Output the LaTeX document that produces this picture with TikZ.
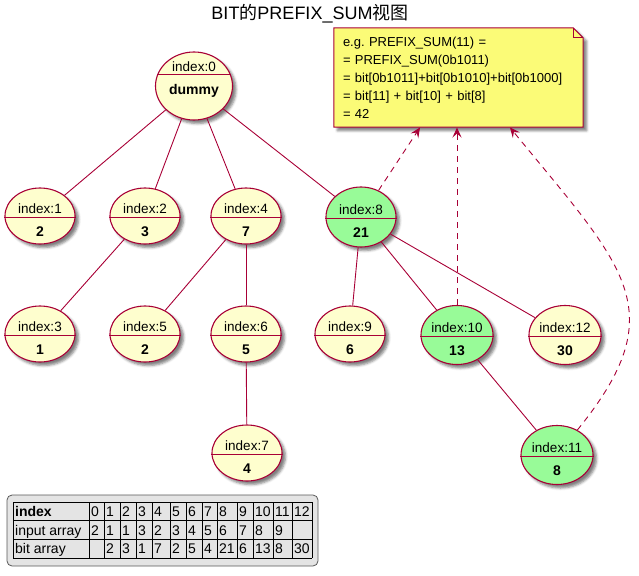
\documentclass[tikz,border=0pt]{standalone}
\usepackage{fontspec}
\setmainfont{Liberation Sans}
\newfontfamily\cjkfont{Noto Sans CJK SC}
\usetikzlibrary{shapes.geometric,arrows.meta,shadows.blur,backgrounds}
\definecolor{uborder}{HTML}{A80036}
\definecolor{ufill}{HTML}{FEFECE}
\definecolor{ugreen}{HTML}{98FB98}
\definecolor{nfill}{HTML}{FBFB77}
\definecolor{lfill}{HTML}{E4E4E4}
\frenchspacing
\begin{document}
\begin{tikzpicture}[x=1pt,y=-1pt,
  shad/.style={blur shadow={shadow xshift=3.5pt,shadow yshift=-3.5pt,shadow blur radius=2.5pt,shadow opacity=50}},
  ucy/.style={ellipse, draw=uborder, line width=1.1pt, fill=ufill, inner sep=0pt,
    minimum width=70pt, minimum height=56pt, shad},
  ucyb/.style={ucy, minimum width=72pt, minimum height=59pt},
  ucgm/.style={ucy, fill=ugreen, minimum height=60pt},
  ucgb/.style={ucyb, fill=ugreen},
  idx/.style={font=\fontsize{13.5}{16}\selectfont, inner sep=0pt},
  val/.style={font=\fontsize{14}{16}\selectfont\bfseries, inner sep=0pt},
  div/.style={draw=uborder, line width=1pt},
  edge/.style={draw=uborder, line width=0.9pt},
  ref/.style={draw=uborder, line width=0.9pt, dash pattern=on 6pt off 5pt,
    -{Stealth[length=10pt,width=9pt,inset=4pt]}},
  ttl/.style={font=\fontsize{18}{20}\selectfont, inner sep=0pt},
  notetext/.style={minimum width=249pt, minimum height=99pt, text width=231pt,
    align=left, inner sep=0pt, font=\fontsize{13}{18}\selectfont},
  notebg/.style={draw=uborder, line width=1pt, fill=nfill, shad},
  legbox/.style={draw=black!65, line width=0.8pt, fill=lfill, rounded corners=5pt,
    minimum width=311pt, minimum height=71pt, inner sep=0pt},
  gridln/.style={draw=black, line width=0.7pt},
  cell/.style={anchor=base west, inner sep=0pt, font=\fontsize{14}{16}\selectfont}
]
\useasboundingbox (0,0) rectangle (639,575);

% title
\node[ttl] (title) at (310,14) {BIT{\cjkfont 的}PREFIX\_SUM{\cjkfont 视图}};

% root node
\node[ucy, minimum width=77pt, minimum height=68pt] (n0) at (194,86) {};
\draw[div] (n0.163) -- (n0.17);
\node[idx] (t0) at (194,67) {index:0};
\node[val] (v0) at (194,91) {dummy};

% other nodes
\foreach \n/\x/\y/\v/\s in {1/40/216/2/ucy, 2/145/216/3/ucy, 4/246/216/7/ucy,
  8/361/217/21/ucgm, 3/40/334/1/ucy, 5/145/334/2/ucy, 6/246/334/5/ucy,
  7/247/453/4/ucy, 9/350/334/6/ucy, 10/457/335/13/ucgb, 11/557/455/8/ucgb,
  12/565/335/30/ucyb}
{
  \node[\s] (n\n) at (\x,\y) {};
  \draw[div] ([yshift=-1.5pt]n\n.west) -- ([yshift=-1.5pt]n\n.east);
  \node[idx] (t\n) at (\x,\y-7) {index:\n};
  \node[val] (v\n) at (\x,\y+16) {\v};
}

% tree edges
\foreach \a/\b in {0/1,0/2,0/4,0/8,2/3,4/5,4/6,6/7,8/9,8/10,8/12,10/11}
  \draw[edge] (n\a) -- (n\b);

% note
\node[notetext] (note) at (458.5,77.5) {e.g. PREFIX\_SUM(11) =\\
= PREFIX\_SUM(0b1011)\\
= bit[0b1011]+bit[0b1010]+bit[0b1000]\\
= bit[11] + bit[10] + bit[8]\\
= 42};
\begin{scope}[on background layer]
  \path[notebg] (note.north west) -- ([xshift=-10pt]note.north east)
    -- ([yshift=-10pt]note.north east) -- (note.south east)
    -- (note.south west) -- cycle;
\end{scope}
\draw[div] ([xshift=-10pt]note.north east) -- ([xshift=-10pt,yshift=-10pt]note.north east)
  -- ([yshift=-10pt]note.north east);

% dashed references
\coordinate (a1) at (420,127.5);
\coordinate (a2) at (457,127.5);
\coordinate (a3) at (510,127.5);
\draw[ref] (n8) -- (a1);
\draw[ref] (n10) -- (a2);
\draw[ref] (n11) .. controls (675,310) and (625,268) .. (a3);

% legend table
\node[legbox] (legend) at (162.5,530.5) {};
\foreach \yy in {502,520.5,539,558}
  \draw[gridln] (13,\yy) -- (312,\yy);
\foreach \xx in {13,89,104,120,136,152,170,186,202,217,237,253,273,292,312}
  \draw[gridln] (\xx,502) -- (\xx,558);
\node[cell, font=\fontsize{14}{16}\selectfont\bfseries] (h1) at (15,516.5) {index};
\node[cell] (h2) at (15,535) {input array};
\node[cell] (h3) at (15,553.5) {bit array};
\foreach \xx/\a/\b/\c in {89/0/2/{}, 104/1/1/2, 120/2/1/3, 136/3/3/1, 152/4/2/7,
  170/5/3/2, 186/6/4/5, 202/7/5/4, 217/8/6/21, 237/9/7/6, 253/10/8/13,
  273/11/9/8, 292/12/{}/30}
{
  \node[cell] (ra\xx) at (\xx+2,516.5) {\a};
  \node[cell] (rb\xx) at (\xx+2,535) {\b};
  \node[cell] (rc\xx) at (\xx+2,553.5) {\c};
}
\end{tikzpicture}
\end{document}
